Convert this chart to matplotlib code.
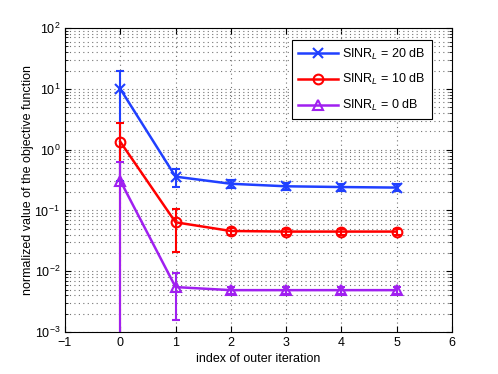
import numpy as np
import matplotlib.pyplot as plt
from matplotlib.lines import Line2D
from matplotlib.ticker import LogLocator, NullFormatter

plt.rcParams['font.family'] = ['Liberation Sans', 'DejaVu Sans']
plt.rcParams['mathtext.fontset'] = 'custom'
plt.rcParams['mathtext.rm'] = 'Liberation Sans'
plt.rcParams['mathtext.it'] = 'Liberation Sans:italic'

iters = [0, 1, 2, 3, 4, 5]
labels = [r'SINR$_{L}$ = 20 dB', r'SINR$_{L}$ = 10 dB', r'SINR$_{L}$ = 0 dB']

obj_20 = [10.0, 0.36, 0.275, 0.25, 0.243, 0.238]
err_20 = [9.7, 0.12, 0.045, 0.03, 0.03, 0.03]
obj_10 = [1.35, 0.064, 0.046, 0.045, 0.045, 0.045]
err_10 = [1.42, 0.043, 0.006, 0.005, 0.005, 0.005]
obj_0 = [0.31, 0.0055, 0.0049, 0.0049, 0.0049, 0.0049]
err_0 = [0.32, 0.0039, 0.0006, 0.0006, 0.0006, 0.0006]

fig = plt.figure(figsize=(4.98, 3.74), dpi=100)
ax = fig.add_axes([0.1305, 0.112, 0.777, 0.813])
ax.set_yscale('log', nonpositive='clip')

styles = [('#2040ff', 'x'), ('#ff0000', 'o'), ('#a020f0', '^')]
handles = []
for y, e, lab, (c, m) in zip([obj_20, obj_10, obj_0], [err_20, err_10, err_0], labels, styles):
    ax.errorbar(iters, y, yerr=e, color=c, marker=m, ms=7, mew=1.5,
                mfc='none', lw=1.8, capsize=3, elinewidth=1.5, capthick=1.5)
    handles.append(Line2D([], [], color=c, marker=m, ms=7, mew=1.5, mfc='none', lw=1.8, label=lab))

ax.set_xlim(-1, 6)
ax.set_ylim(1e-3, 1e2)
ax.set_xticks(range(-1, 7))
ax.yaxis.set_major_locator(LogLocator(base=10, numticks=10))
ax.yaxis.set_minor_locator(LogLocator(base=10, subs=np.arange(2, 10), numticks=20))
ax.yaxis.set_minor_formatter(NullFormatter())
ax.grid(True, which='major', ls=(0, (1, 3)), color='0.45', lw=0.8)
ax.grid(True, which='minor', axis='y', ls=(0, (1, 3)), color='0.45', lw=0.8)
ax.tick_params(which='both', direction='in', top=True, right=True, labelsize=9)
ax.tick_params(which='major', length=4)
ax.tick_params(which='minor', length=2)
for s in ax.spines.values():
    s.set_linewidth(0.8)

ax.set_xlabel('index of outer iteration', fontsize=9, labelpad=3)
ax.set_ylabel('normalized value of the objective function', fontsize=9, labelpad=0)
leg = ax.legend(handles=handles, loc='upper right', bbox_to_anchor=(0.948, 0.96),
                borderaxespad=0, fontsize=9, fancybox=False, framealpha=1,
                edgecolor='black', borderpad=0.5, handlelength=3.2,
                handletextpad=0.3, labelspacing=0.85)
leg.get_frame().set_linewidth(0.8)

fig.savefig('out.png', dpi=100)
